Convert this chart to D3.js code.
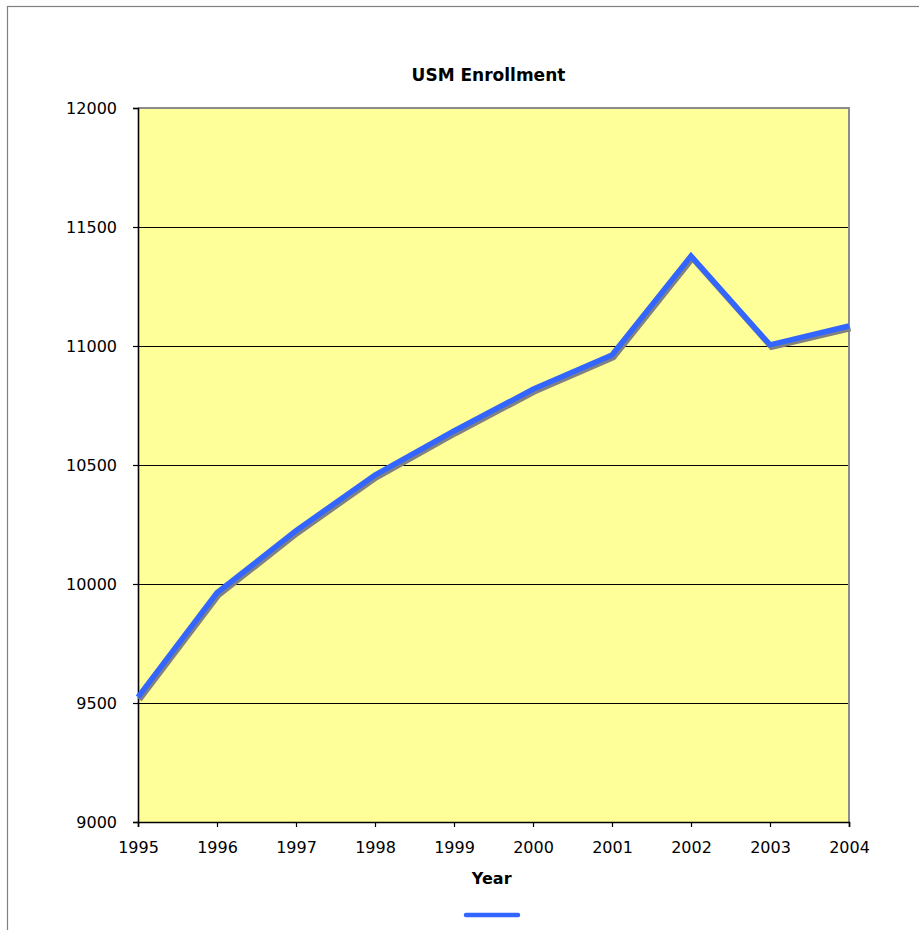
<!DOCTYPE html>
<html><head><meta charset="utf-8">
<script src="https://cdn.jsdelivr.net/npm/d3@7/dist/d3.min.js"></script>
<style>
html,body{margin:0;padding:0;background:#fff;}
svg{display:block;}
text{font-family:"DejaVu Sans",Verdana,sans-serif;fill:#000;}
</style></head>
<body><svg id="c" width="919" height="930"></svg>
<script>
const years = [1995,1996,1997,1998,1999,2000,2001,2002,2003,2004];
const enrollment = [9525,9963,10224,10458,10643,10818,10962,11378,11005,11084];
const yTicks = [9000,9500,10000,10500,11000,11500,12000];
const title = "USM Enrollment";
const xTitle = "Year";

const svg = d3.select("#c");
// outer chart border
svg.append("rect").attr("x",7.5).attr("y",6.5).attr("width",940).attr("height",960)
  .attr("fill","#fff").attr("stroke","#808080").attr("stroke-width",1.2);

const L=138, R=849, T=108, B=822;
const x = d3.scaleLinear().domain([1995,2004]).range([L,R]);
const y = d3.scaleLinear().domain([9000,12000]).range([B,T]);

// plot area
svg.append("rect").attr("x",L).attr("y",T).attr("width",R-L).attr("height",B-T).attr("fill","#FFFF99");

// gridlines
svg.append("g").selectAll("line").data(yTicks.filter(d=>d>9000&&d<12000)).join("line")
  .attr("x1",L).attr("x2",R).attr("y1",d=>y(d)+0.5).attr("y2",d=>y(d)+0.5)
  .attr("stroke","#000").attr("stroke-width",1);

// top and right border (gray)
svg.append("path").attr("d",`M${L},${T} H${R} V${B}`).attr("fill","none")
  .attr("stroke","#8c8c8c").attr("stroke-width",2);

// y axis
const ya = svg.append("g").attr("transform",`translate(${L},0)`)
  .call(d3.axisLeft(y).tickValues(yTicks).tickSize(5).tickPadding(16).tickFormat(d3.format("d")));
ya.select(".domain").attr("stroke","#000").attr("stroke-width",1.6);
ya.selectAll(".tick line").attr("stroke","#000").attr("stroke-width",1.2);
ya.selectAll("text").attr("font-size","16px").attr("font-family","DejaVu Sans").attr("fill","#111").attr("dy","0.36em");

// x axis
const xa = svg.append("g").attr("transform",`translate(0,${B})`)
  .call(d3.axisBottom(x).tickValues(years).tickSize(5).tickPadding(15).tickFormat(d3.format("d")));
xa.select(".domain").attr("stroke","#000").attr("stroke-width",1.6);
xa.selectAll(".tick line").attr("stroke","#000").attr("stroke-width",1.2);
xa.selectAll("text").attr("font-size","16px").attr("font-family","DejaVu Sans").attr("fill","#111");

// line with shadow
const line = d3.line().x((d,i)=>x(years[i])).y(d=>y(d));
svg.append("path").datum(enrollment).attr("d",line).attr("fill","none")
  .attr("stroke","#808080").attr("stroke-width",5.5).attr("stroke-linejoin","miter")
  .attr("transform","translate(1.5,2.5)");
svg.append("path").datum(enrollment).attr("d",line).attr("fill","none")
  .attr("stroke","#3366FF").attr("stroke-width",5.5).attr("stroke-linejoin","miter");

// titles
svg.append("text").attr("x",488.5).attr("y",81).attr("text-anchor","middle")
  .attr("font-size","17px").attr("font-weight","bold").text(title);
svg.append("text").attr("x",491.7).attr("y",884).attr("text-anchor","middle")
  .attr("font-size","16px").attr("font-weight","bold").text(xTitle);

// legend
svg.append("line").attr("x1",466).attr("x2",518).attr("y1",915).attr("y2",915)
  .attr("stroke","#3366FF").attr("stroke-width",4.5).attr("stroke-linecap","round");
</script></body></html>
